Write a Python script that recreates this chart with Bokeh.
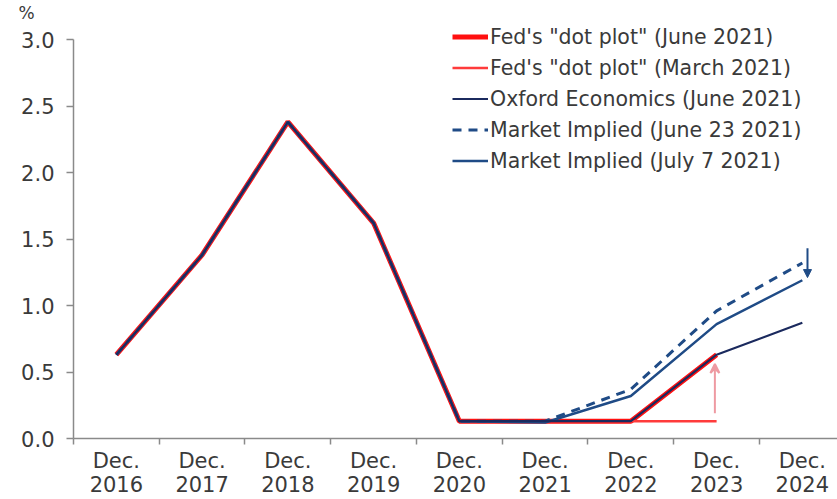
from bokeh.plotting import figure
from bokeh.models import (FixedTicker, Legend, LegendItem, Title, Arrow,
                          NormalHead, VeeHead, Range1d)
from bokeh.embed import file_html
from bokeh.resources import INLINE

years = ["2016", "2017", "2018", "2019", "2020", "2021", "2022", "2023", "2024"]
tick_labels = ["Dec.\n" + y for y in years]

fed_june = [0.63, 1.38, 2.38, 1.62, 0.13, 0.13, 0.13, 0.63]
fed_march = [0.63, 1.38, 2.38, 1.62, 0.13, 0.13, 0.13, 0.13]
oxford = [0.63, 1.38, 2.38, 1.62, 0.13, 0.13, 0.13, 0.63, 0.87]
mkt_june23 = [0.63, 1.38, 2.38, 1.62, 0.13, 0.13, 0.37, 0.96, 1.32]
mkt_july7 = [0.63, 1.38, 2.38, 1.62, 0.13, 0.12, 0.32, 0.86, 1.19]

red_arrow = (7.48, 0.19, 0.56)
navy_arrow = (8.56, 1.43, 1.21)

FONT = "DejaVu Sans"
TXT = "#3a3a3a"

def xs(n):
    return [i + 0.5 for i in range(n)]

p = figure(width=837, height=499, output_backend="svg", toolbar_location=None,
           x_range=Range1d(0, 8.91), y_range=Range1d(0, 3.128),
           min_border_left=73, min_border_right=0, min_border_top=22,
           min_border_bottom=61)
p.outline_line_color = None
p.xgrid.grid_line_color = None
p.ygrid.grid_line_color = None
p.background_fill_color = "white"
p.border_fill_color = "white"

# "%" unit label
p.add_layout(Title(text="%", align="left", offset=-55, standoff=0,
                   text_font=FONT, text_font_size="17px",
                   text_font_style="normal", text_color=TXT), "above")

# axes
p.yaxis.ticker = FixedTicker(ticks=[0, 0.5, 1.0, 1.5, 2.0, 2.5, 3.0])
p.yaxis.bounds = (0, 3.0)
p.yaxis.major_label_overrides = {0: "0.0", 0.5: "0.5", 1.0: "1.0", 1.5: "1.5",
                                 2.0: "2.0", 2.5: "2.5", 3.0: "3.0"}
p.yaxis.minor_tick_line_color = None
p.yaxis.major_tick_out = 7
p.yaxis.major_tick_in = 0
p.yaxis.axis_line_color = "#8a8a8a"
p.yaxis.major_tick_line_color = "#8a8a8a"
p.yaxis.axis_line_width = 1.5
p.yaxis.major_tick_line_width = 1.5
p.yaxis.major_label_text_font = FONT
p.yaxis.major_label_text_font_size = "21px"
p.yaxis.major_label_text_color = TXT
p.yaxis.major_label_standoff = 12

p.xaxis.ticker = FixedTicker(ticks=xs(9), minor_ticks=list(range(10)))
p.xaxis.major_label_overrides = {x: t for x, t in zip(xs(9), tick_labels)}
p.xaxis.major_tick_line_color = None
p.xaxis.major_tick_out = 0
p.xaxis.major_tick_in = 0
p.xaxis.minor_tick_out = 6
p.xaxis.minor_tick_in = 0
p.xaxis.minor_tick_line_color = "#8a8a8a"
p.xaxis.minor_tick_line_width = 1.5
p.xaxis.axis_line_color = "#8a8a8a"
p.xaxis.axis_line_width = 1.5
p.xaxis.major_label_text_font = FONT
p.xaxis.major_label_text_font_size = "21px"
p.xaxis.major_label_text_color = TXT
p.xaxis.major_label_standoff = 4
p.xaxis.major_label_text_line_height = 1.0

RED = "#ff1010"
RED2 = "#ff3b3b"
NAVY = "#1b2a5e"
BLUE = "#1f4b86"

r_june = p.line(xs(len(fed_june)), fed_june, line_color=RED, line_width=5)
r_march = p.line(xs(len(fed_march)), fed_march, line_color=RED2, line_width=2.5)
r_m23 = p.line(xs(len(mkt_june23)), mkt_june23, line_color=BLUE, line_width=3,
               line_dash="9 7")
r_m7 = p.line(xs(len(mkt_july7)), mkt_july7, line_color=BLUE, line_width=2.5)
r_ox = p.line(xs(len(oxford)), oxford, line_color=NAVY, line_width=2.2)

# arrows
p.add_layout(Arrow(x_start=red_arrow[0], y_start=red_arrow[1],
                   x_end=red_arrow[0], y_end=red_arrow[2],
                   line_color="#ee9aa2", line_width=2,
                   end=VeeHead(size=9, line_color="#ee9aa2", line_width=2,
                               fill_color="#ee9aa2")))
p.add_layout(Arrow(x_start=navy_arrow[0], y_start=navy_arrow[1],
                   x_end=navy_arrow[0], y_end=navy_arrow[2],
                   line_color=BLUE, line_width=2,
                   end=NormalHead(size=8, line_color=BLUE, fill_color=BLUE)))

legend = Legend(items=[
    LegendItem(label="Fed's \"dot plot\" (June 2021)", renderers=[r_june]),
    LegendItem(label="Fed's \"dot plot\" (March 2021)", renderers=[r_march]),
    LegendItem(label="Oxford Economics (June 2021)", renderers=[r_ox]),
    LegendItem(label="Market Implied (June 23 2021)", renderers=[r_m23]),
    LegendItem(label="Market Implied (July 7 2021)", renderers=[r_m7]),
], location=(379, 262))
legend.border_line_color = None
legend.background_fill_alpha = 0
legend.label_text_font = FONT
legend.label_text_font_size = "20.5px"
legend.label_text_color = TXT
legend.glyph_width = 36
legend.glyph_height = 31
legend.label_height = 31
legend.label_standoff = 2
legend.spacing = 0
legend.padding = 0
legend.margin = 0
p.add_layout(legend, "center")

open("out.html", "w").write(file_html(p, INLINE))
